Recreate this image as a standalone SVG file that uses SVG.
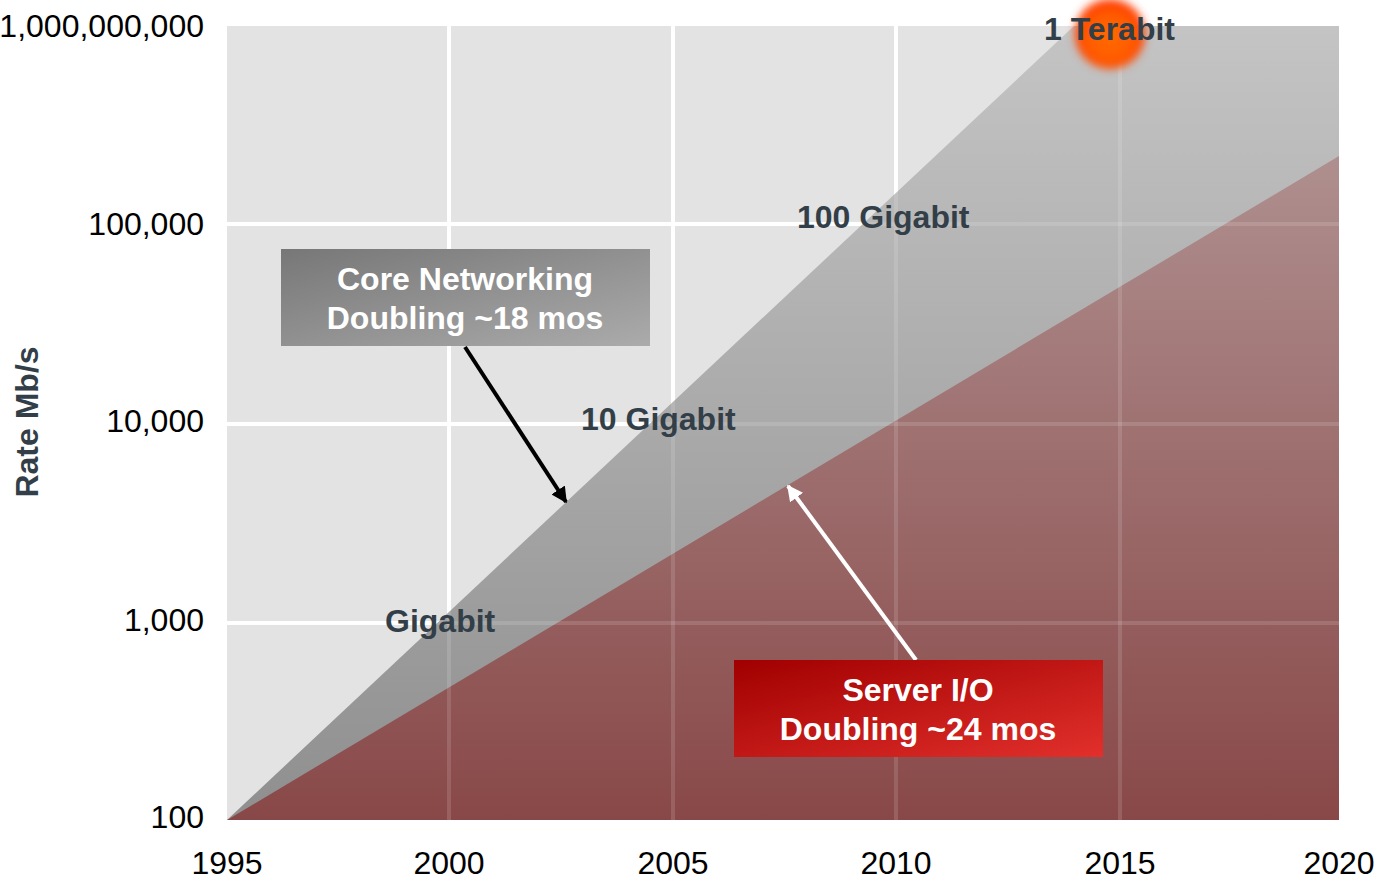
<svg xmlns="http://www.w3.org/2000/svg" width="1379" height="879" viewBox="0 0 1379 879">
<style>
.ax{font-family:"Liberation Sans",Arial,sans-serif;font-size:32px;fill:#000}
.lbl{font-family:"Liberation Sans",Arial,sans-serif;font-size:32px;font-weight:bold;fill:#333f48}
.box{font-family:"Liberation Sans",Arial,sans-serif;font-size:32px;font-weight:bold;fill:#fff;text-anchor:middle}
.grid{stroke:#fff;stroke-width:4}
.gridf{stroke:#fff;stroke-width:4;opacity:0.13}
</style>
<defs>
<linearGradient id="gGray" x1="0" y1="0" x2="0" y2="1">
<stop offset="0" stop-color="#c4c4c4"/>
<stop offset="1" stop-color="#8f8f8f"/>
</linearGradient>
<linearGradient id="gRed" x1="0" y1="0" x2="0" y2="1">
<stop offset="0" stop-color="#af8f8f"/>
<stop offset="1" stop-color="#894848"/>
</linearGradient>
<linearGradient id="gCore" x1="0" y1="0" x2="1" y2="1">
<stop offset="0" stop-color="#777777"/>
<stop offset="1" stop-color="#ababab"/>
</linearGradient>
<linearGradient id="gServer" x1="0" y1="0" x2="1" y2="1">
<stop offset="0" stop-color="#a00000"/>
<stop offset="1" stop-color="#e2302c"/>
</linearGradient>
<radialGradient id="gOrange" cx="0.5" cy="0.55" r="0.5">
<stop offset="0" stop-color="#ff6a00"/>
<stop offset="0.7" stop-color="#ff5a00"/>
<stop offset="1" stop-color="#ff3a00"/>
</radialGradient>
<filter id="blur" x="-50%" y="-50%" width="200%" height="200%">
<feGaussianBlur stdDeviation="4"/>
</filter>
<marker id="ahBlack" viewBox="0 0 10 10" refX="9" refY="5" markerWidth="4" markerHeight="4" orient="auto" markerUnits="strokeWidth">
<path d="M0,0 L10,5 L0,10 z" fill="#000"/>
</marker>
<marker id="ahWhite" viewBox="0 0 10 10" refX="9" refY="5" markerWidth="4" markerHeight="4" orient="auto" markerUnits="strokeWidth">
<path d="M0,0 L10,5 L0,10 z" fill="#fff"/>
</marker>
</defs>

<rect width="1379" height="879" fill="#fff"/>

<g id="plot">
<rect x="227" y="26" width="1112" height="794" fill="#e3e3e3"/>
<g id="grid">
<line class="grid" x1="449" y1="26" x2="449" y2="820"/>
<line class="grid" x1="673" y1="26" x2="673" y2="820"/>
<line class="grid" x1="896" y1="26" x2="896" y2="820"/>
<line class="grid" x1="1120" y1="26" x2="1120" y2="820"/>
<line class="grid" x1="227" y1="224" x2="1339" y2="224"/>
<line class="grid" x1="227" y1="424" x2="1339" y2="424"/>
<line class="grid" x1="227" y1="623" x2="1339" y2="623"/>
</g>
</g>

<g id="core-region">
<polygon points="227,820 1074,26 1339,26 1339,820" fill="url(#gGray)"/>
</g>
<g id="server-region">
<polygon points="227,820 1339,156 1339,820" fill="url(#gRed)"/>
</g>

<g id="grid-overlay">
<line class="gridf" x1="449" y1="26" x2="449" y2="820"/>
<line class="gridf" x1="673" y1="26" x2="673" y2="820"/>
<line class="gridf" x1="896" y1="26" x2="896" y2="820"/>
<line class="gridf" x1="1120" y1="26" x2="1120" y2="820"/>
<line class="gridf" x1="227" y1="224" x2="1339" y2="224"/>
<line class="gridf" x1="227" y1="424" x2="1339" y2="424"/>
<line class="gridf" x1="227" y1="623" x2="1339" y2="623"/>
</g>

<g id="y-axis">
<text class="ax" x="204" y="37" text-anchor="end">1,000,000,000</text>
<text class="ax" x="204" y="235" text-anchor="end">100,000</text>
<text class="ax" x="204" y="432" text-anchor="end">10,000</text>
<text class="ax" x="204" y="631" text-anchor="end">1,000</text>
<text class="ax" x="204" y="828" text-anchor="end">100</text>
<text class="lbl" x="38" y="422" font-size="30" text-anchor="middle" transform="rotate(-90 38 422)">Rate Mb/s</text>
</g>

<g id="x-axis">
<text class="ax" x="227" y="874" text-anchor="middle">1995</text>
<text class="ax" x="449" y="874" text-anchor="middle">2000</text>
<text class="ax" x="673" y="874" text-anchor="middle">2005</text>
<text class="ax" x="896" y="874" text-anchor="middle">2010</text>
<text class="ax" x="1120" y="874" text-anchor="middle">2015</text>
<text class="ax" x="1339" y="874" text-anchor="middle">2020</text>
</g>

<g id="terabit-marker">
<circle cx="1110" cy="34" r="35" fill="url(#gOrange)" filter="url(#blur)"/>
</g>

<g id="rate-labels">
<text class="lbl" x="1044" y="40">1 Terabit</text>
<text class="lbl" x="797" y="228">100 Gigabit</text>
<text class="lbl" x="581" y="430">10 Gigabit</text>
<text class="lbl" x="385" y="632">Gigabit</text>
</g>

<g id="connectors">
<line x1="465" y1="347" x2="566" y2="502" stroke="#000" stroke-width="4" marker-end="url(#ahBlack)"/>
<line x1="916" y1="660" x2="788" y2="486" stroke="#fff" stroke-width="4" marker-end="url(#ahWhite)"/>
</g>

<g id="core-box">
<rect x="281" y="249" width="369" height="97" fill="url(#gCore)"/>
<text class="box" x="465" y="290">Core Networking</text>
<text class="box" x="465" y="329">Doubling ~18 mos</text>
</g>

<g id="server-box">
<rect x="734" y="660" width="369" height="97" fill="url(#gServer)"/>
<text class="box" x="918" y="701">Server I/O</text>
<text class="box" x="918" y="740">Doubling ~24 mos</text>
</g>
</svg>
